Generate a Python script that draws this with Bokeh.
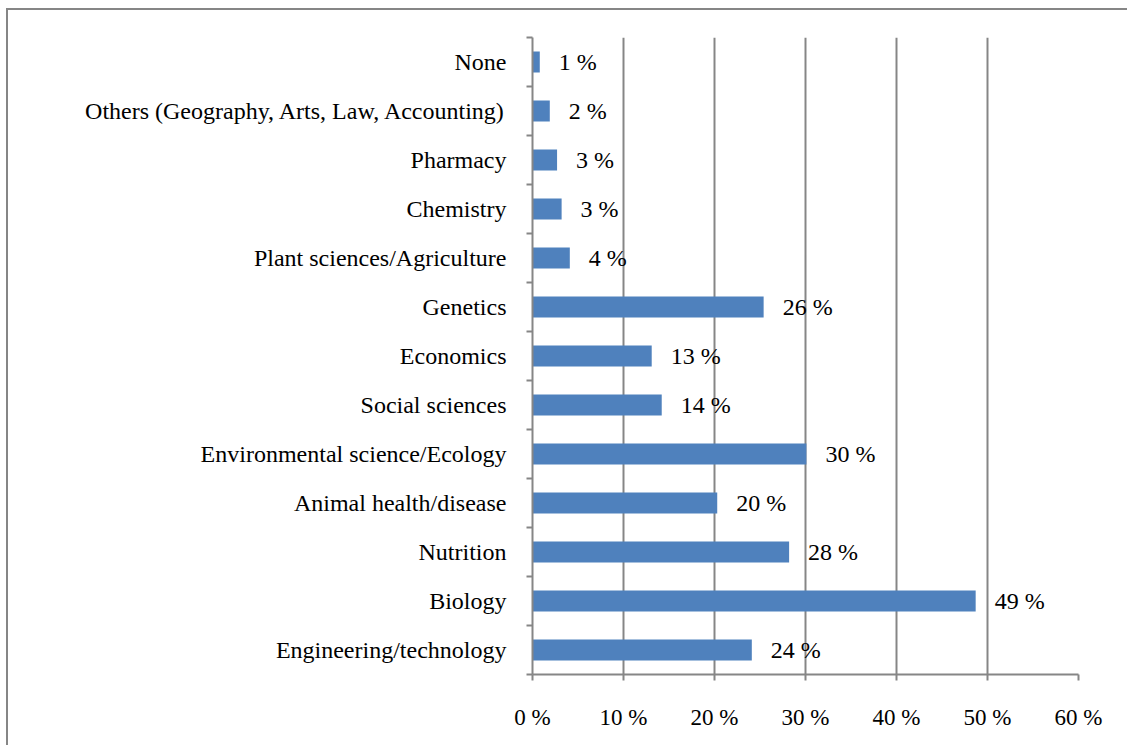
from bokeh.plotting import figure
from bokeh.models import Range1d, FixedTicker, LinearAxis, Grid
from bokeh.core.properties import value
from bokeh.embed import file_html
from bokeh.resources import INLINE

categories = ["Engineering/technology", "Biology", "Nutrition", "Animal health/disease",
              "Environmental science/Ecology", "Social sciences", "Economics", "Genetics",
              "Plant sciences/Agriculture", "Chemistry", "Pharmacy",
              "Others (Geography, Arts, Law, Accounting)", "None"]
values = [24.1, 48.7, 28.2, 20.3, 30.1, 14.2, 13.1, 25.4, 4.1, 3.2, 2.7, 1.9, 0.8]
value_labels = ["24 %", "49 %", "28 %", "20 %", "30 %", "14 %", "13 %", "26 %",
                "4 %", "3 %", "3 %", "2 %", "1 %"]
x_ticks = [0, 10, 20, 30, 40, 50, 60]
x_tick_labels = ["0 %", "10 %", "20 %", "30 %", "40 %", "50 %", "60 %"]

FONT = "Liberation Serif"
GRAY = "#868686"
idx = list(range(len(categories)))

p = figure(width=1121, height=737, output_backend="svg", toolbar_location=None,
           x_range=Range1d(0, 60), y_range=Range1d(-0.5, len(categories) - 0.5),
           min_border_left=524, min_border_right=51, min_border_top=27, min_border_bottom=73,
           x_axis_location=None, y_axis_location=None,
           margin=(8, 0, 0, 6),
           styles={"border-top": "2px solid #868686", "border-left": "2px solid #868686",
                   "box-sizing": "border-box"})
p.outline_line_color = None
p.background_fill_color = "white"
p.border_fill_color = "white"

xaxis = LinearAxis(ticker=FixedTicker(ticks=x_ticks))
xaxis.major_label_overrides = {t: l for t, l in zip(x_ticks, x_tick_labels)}
xaxis.axis_line_color = GRAY
xaxis.axis_line_width = 2
xaxis.major_tick_line_color = GRAY
xaxis.major_tick_line_width = 2
xaxis.major_tick_out = 6
xaxis.major_tick_in = 0
xaxis.minor_tick_line_color = None
xaxis.major_label_standoff = 24
xaxis.major_label_text_font = FONT
xaxis.major_label_text_font_size = "23px"
xaxis.major_label_text_color = "black"
p.add_layout(xaxis, "below")

yaxis = LinearAxis(ticker=FixedTicker(ticks=idx, minor_ticks=[i - 0.5 for i in range(len(categories) + 1)]))
yaxis.major_label_overrides = {i: c for i, c in zip(idx, categories)}
yaxis.axis_line_color = GRAY
yaxis.axis_line_width = 2
yaxis.major_tick_line_color = None
yaxis.major_tick_out = 0
yaxis.major_tick_in = 0
yaxis.minor_tick_line_color = GRAY
yaxis.minor_tick_line_width = 2
yaxis.minor_tick_out = 6
yaxis.minor_tick_in = 0
yaxis.major_label_standoff = 20
yaxis.major_label_text_font = FONT
yaxis.major_label_text_font_size = "24px"
yaxis.major_label_text_color = "black"
p.add_layout(yaxis, "left")

p.xgrid.visible = False
p.ygrid.visible = False
g = Grid(dimension=0, ticker=FixedTicker(ticks=x_ticks[1:]), grid_line_color=GRAY, grid_line_width=2)
p.add_layout(g)

p.hbar(y=idx, right=values, left=0, height=0.43, fill_color="#4F81BD", line_color=None)
p.text(x=values, y=idx, text=value_labels, x_offset=19, text_align="left", text_baseline="middle",
       text_font=value(FONT), text_font_size="24px", text_color="black")

open("out.html", "w").write(file_html(p, INLINE))
